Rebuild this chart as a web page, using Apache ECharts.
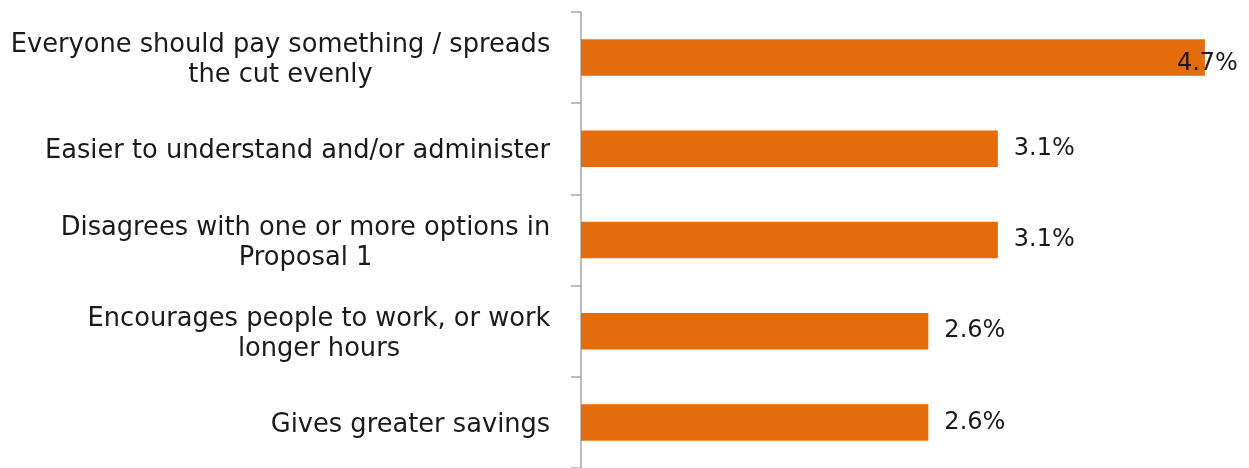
<!DOCTYPE html>
<html><head><meta charset="utf-8">
<script src="https://cdn.jsdelivr.net/npm/echarts@6/dist/echarts.min.js"></script>
<style>html,body{margin:0;padding:0;background:#fff}#c{width:1249px;height:468px}</style>
</head><body><div id="c"></div>
<script>
const categories = [
  "Everyone should pay something / spreads\nthe cut evenly",
  "Easier to understand and/or administer",
  "Disagrees with one or more options in\nProposal 1",
  "Encourages people to work, or work\nlonger hours",
  "Gives greater savings"
];
const values = [4.67, 3.12, 3.12, 2.6, 2.6];
const labelTexts = ["4.7%", "3.1%", "3.1%", "2.6%", "2.6%"];

const FONT = 'DejaVu Sans';
const CAT_SIZE = 25.7;
const ctx = document.createElement('canvas').getContext('2d');
ctx.font = CAT_SIZE + 'px "' + FONT + '"';
function blockWidth(v) {
  return Math.ceil(Math.max(...v.split('\n').map(l => ctx.measureText(l).width))) + 1;
}
function catLabel(v) {
  const key = 'c' + blockWidth(v);
  return v.split('\n').map(l => '{' + key + '|' + l + '}').join('\n');
}
const rich = {};
categories.forEach(c => {
  const w = blockWidth(c);
  rich['c' + w] = {width: w, align: 'center', fontFamily: FONT, fontSize: CAT_SIZE, color: '#1a1a1a', lineHeight: 30};
});

const chart = echarts.init(document.getElementById('c'));
chart.setOption({
  animation: false,
  grid: {left: 581, top: 12, width: 668, height: 460, containLabel: false},
  xAxis: {type: 'value', min: 0, max: 5, show: false},
  yAxis: {
    type: 'category', data: categories, inverse: true,
    axisLine: {show: true, lineStyle: {color: '#a6a6a6', width: 1.5}},
    axisTick: {show: true, length: 10, lineStyle: {color: '#a6a6a6', width: 1.5}},
    axisLabel: {margin: 30, fontFamily: FONT, fontSize: CAT_SIZE, color: '#1a1a1a', lineHeight: 30, align: 'right',
      padding: [6, 0, 0, 0], formatter: catLabel, rich: rich}
  },
  series: [{
    type: 'bar', barWidth: '40%',
    itemStyle: {color: '#E46C0A'},
    data: values.map((v, i) => i === 0 ? {value: v, label: {offset: [-44, 6]}} : v),
    label: {show: true, position: 'right', distance: 16, fontFamily: FONT, fontSize: 24, color: '#1a1a1a',
      formatter: p => labelTexts[p.dataIndex]}
  }]
});
</script></body></html>
